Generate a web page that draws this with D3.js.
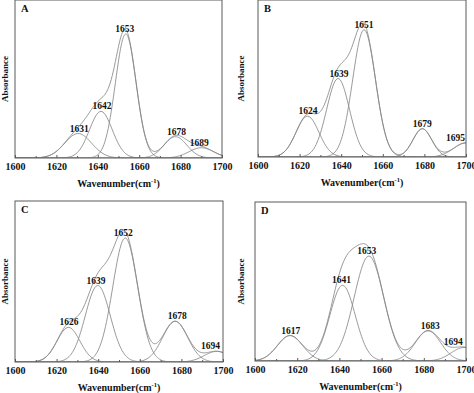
<!DOCTYPE html>
<html>
<head>
<meta charset="utf-8">
<script src="https://cdn.jsdelivr.net/npm/d3@7"></script>
<style>
  body { margin: 0; background: #fff; }
  text { font-family: "Liberation Serif", "Times New Roman", serif; font-weight: bold; fill: #111; }
</style>
</head>
<body>
<div class="chart"></div>
<script>
const width = 474, height = 393

// x axis
const xTicks = [1600, 1620, 1640, 1660, 1680, 1700]
const panelKeys = ['A', 'B', 'C', 'D']

// fitted bands: label, centre, height (share of frame), half-width (sigma)
const labelsA  = [1631, 1642, 1653, 1678, 1689]
const centersA = [1630.5, 1641.5, 1653.5, 1677.5, 1690]
const heightsA = [0.155, 0.295, 0.785, 0.135, 0.065]
const sigmasA  = [6.5, 5.5, 5, 5.5, 6]

const labelsB  = [1624, 1639, 1651, 1679, 1695]
const centersB = [1623.8, 1638.5, 1651, 1679, 1700]
const heightsB = [0.26, 0.5, 0.81, 0.18, 0.09]
const sigmasB  = [5.5, 5.5, 5.5, 4.5, 6]

const labelsC  = [1626, 1639, 1652, 1678, 1694]
const centersC = [1625.7, 1639.8, 1653, 1677, 1697]
const heightsC = [0.215, 0.475, 0.77, 0.253, 0.066]
const sigmasC  = [5.5, 6, 6, 6, 6]

const labelsD  = [1617, 1641, 1653, 1683, 1694]
const centersD = [1616.6, 1641.5, 1654, 1682, 1699]
const heightsD = [0.16, 0.476, 0.66, 0.19, 0.085]
const sigmasD  = [6, 6, 7, 6, 6]

const fits = {
    A: { labels: labelsA, centers: centersA, heights: heightsA, sigmas: sigmasA },
    B: { labels: labelsB, centers: centersB, heights: heightsB, sigmas: sigmasB },
    C: { labels: labelsC, centers: centersC, heights: heightsC, sigmas: sigmasC },
    D: { labels: labelsD, centers: centersD, heights: heightsD, sigmas: sigmasD }
}

// frame of each panel on the page
const frames = {
    A: { left: 15,  right: 222, top: 0,   bottom: 158, yLab: 5 },
    B: { left: 258, right: 466, top: 0,   bottom: 157, yLab: 241 },
    C: { left: 15,  right: 223, top: 201, bottom: 362, yLab: 5 },
    D: { left: 255, right: 466, top: 202, bottom: 361, yLab: 241 }
}

const svg = d3.select('.chart').append('svg')
    .attr('width', width)
    .attr('height', height)

const band = (c, h, s) => w => h * Math.exp(-((w - c) ** 2) / (2 * s * s))
const grid = d3.range(1600, 1700.001, 0.5)

panelKeys.forEach(key => {
    const f = frames[key], fit = fits[key]

    const x = d3.scaleLinear().domain([1600, 1700]).range([f.left, f.right])
    const y = d3.scaleLinear().domain([0, 1]).range([f.bottom, f.top])

    const g = svg.append('g').attr('class', 'panel-' + key)

    g.append('clipPath').attr('id', 'clip-' + key)
        .append('rect')
        .attr('x', f.left).attr('y', f.top)
        .attr('width', f.right - f.left).attr('height', f.bottom - f.top)

    const bands = fit.centers.map((c, i) => band(c, fit.heights[i], fit.sigmas[i]))
    const envelope = w => d3.sum(bands, b => b(w))

    const line = fn => d3.line()
        .x(d => x(d))
        .y(d => y(fn(d)))
        .curve(d3.curveMonotoneX)(grid)

    const curves = g.append('g').attr('clip-path', 'url(#clip-' + key + ')')
    curves.selectAll('path.band')
        .data(bands)
        .enter().append('path')
        .attr('class', 'band')
        .attr('d', b => line(b))
        .style('fill', 'none')
        .style('stroke', '#888')
        .style('stroke-width', 0.85)

    curves.append('path')
        .attr('d', line(envelope))
        .style('fill', 'none')
        .style('stroke', '#888')
        .style('stroke-width', 0.85)

    // frame
    g.append('rect')
        .attr('x', f.left).attr('y', f.top)
        .attr('width', f.right - f.left).attr('height', f.bottom - f.top)
        .style('fill', 'none')
        .style('stroke', '#5a5a5a')
        .style('stroke-width', 1)

    // inward ticks on the bottom axis
    const axis = d3.axisBottom(x)
        .tickValues(x.ticks(10))
        .tickSize(0)
        .tickFormat(d => xTicks.includes(d) ? d : '')
    const ax = g.append('g')
        .attr('transform', 'translate(0,' + f.bottom + ')')
        .call(axis)
    ax.select('.domain').remove()
    ax.selectAll('.tick line')
        .attr('y2', d => xTicks.includes(d) ? -3 : -2)
        .style('stroke', '#5a5a5a')
    ax.selectAll('.tick text')
        .attr('y', 5)
        .attr('dy', '0.71em')
        .style('font-size', '10px')
        .style('font-family', '"Liberation Serif", serif')
        .style('font-weight', 'bold')
        .style('fill', '#111')

    // peak labels
    g.selectAll('text.peak')
        .data(fit.labels)
        .enter().append('text')
        .attr('class', 'peak')
        .attr('x', d => x(d))
        .attr('y', (d, i) => y(fit.heights[i]) - 2)
        .style('text-anchor', 'middle')
        .style('font-size', '9.5px')
        .text(d => d)

    // panel letter
    g.append('text')
        .attr('x', f.left + 6)
        .attr('y', f.top + 12)
        .style('font-size', '10.5px')
        .text(key)

    // axis titles
    const title = g.append('text')
        .attr('x', (f.left + f.right) / 2)
        .attr('y', f.bottom + 29)
        .style('text-anchor', 'middle')
        .style('font-size', '10px')
    title.append('tspan').text('Wavenumber(cm')
    title.append('tspan').attr('dy', -4).style('font-size', '6.5px').text('-1')
    title.append('tspan').attr('dy', 4).text(')')

    g.append('text')
        .attr('transform', 'translate(' + (f.yLab + 3) + ',' + ((f.top + f.bottom) / 2) + ') rotate(-90)')
        .style('text-anchor', 'middle')
        .style('font-size', '9px')
        .text('Absorbance')
})
</script>
</body>
</html>
